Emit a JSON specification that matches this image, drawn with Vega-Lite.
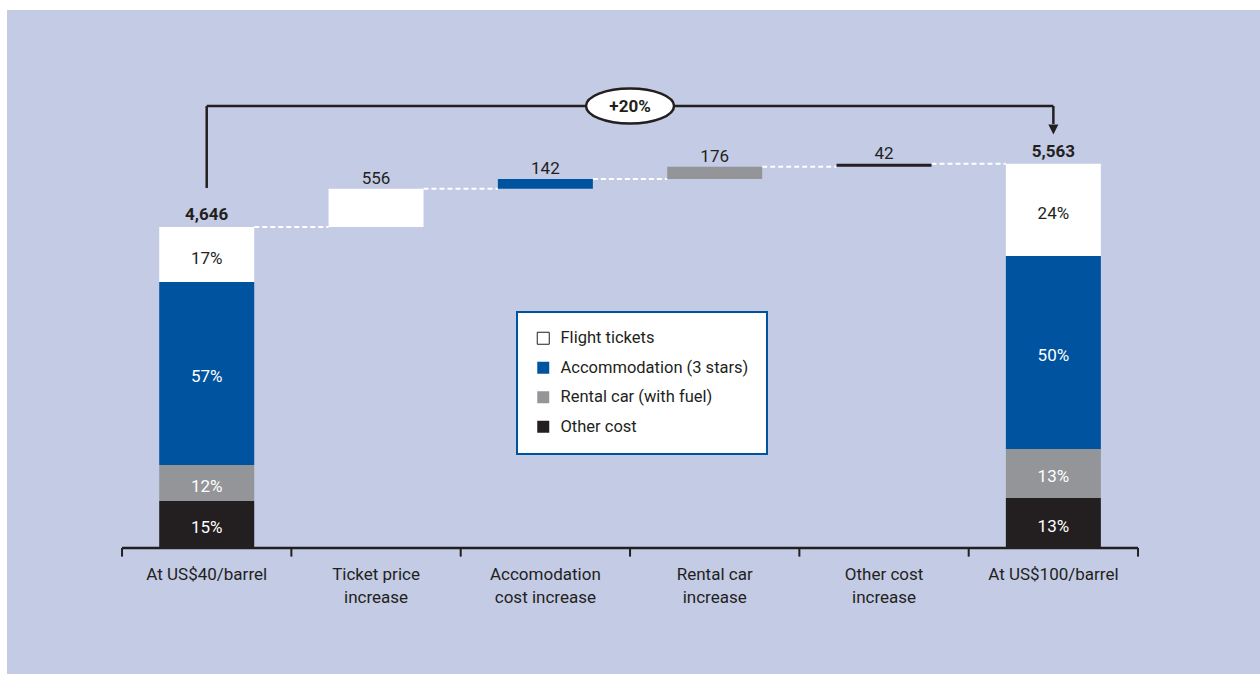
{
  "$schema": "https://vega.github.io/schema/vega-lite/v6.json",
  "width": 1253,
  "height": 664,
  "autosize": {"type": "none"},
  "padding": {"left": 7, "top": 10, "right": 0, "bottom": 0},
  "background": "#ffffff",
  "config": {
    "view": {"fill": "#c3cbe5", "stroke": null},
    "font": "Roboto, sans-serif",
    "text": {"font": "Roboto, sans-serif", "fontSize": 17, "color": "#231f20"},
    "legend": {"strokeWidth": 2}
  },
  "datasets": {
    "totals": [
      {"k": 0, "comp": "Other cost", "value": 680, "pct": "15%"},
      {"k": 0, "comp": "Rental car (with fuel)", "value": 522, "pct": "12%"},
      {"k": 0, "comp": "Accommodation (3 stars)", "value": 2650, "pct": "57%"},
      {"k": 0, "comp": "Flight tickets", "value": 794, "pct": "17%"},
      {"k": 5, "comp": "Other cost", "value": 724, "pct": "13%"},
      {"k": 5, "comp": "Rental car (with fuel)", "value": 710, "pct": "13%"},
      {"k": 5, "comp": "Accommodation (3 stars)", "value": 2794, "pct": "50%"},
      {"k": 5, "comp": "Flight tickets", "value": 1335, "pct": "24%"}
    ],
    "steps": [
      {"k": 0, "label": ["At US$40/barrel"], "comp": "Total", "start": 0, "end": 4646},
      {"k": 1, "label": ["Ticket price", "increase"], "comp": "Flight tickets", "start": 4646, "end": 5202, "change": 556},
      {"k": 2, "label": ["Accomodation", "cost increase"], "comp": "Accommodation (3 stars)", "start": 5202, "end": 5344, "change": 142},
      {"k": 3, "label": ["Rental car", "increase"], "comp": "Rental car (with fuel)", "start": 5344, "end": 5520, "change": 176},
      {"k": 4, "label": ["Other cost", "increase"], "comp": "Other cost", "start": 5520, "end": 5562, "change": 42},
      {"k": 5, "label": ["At US$100/barrel"], "comp": "Total", "start": 0, "end": 5563}
    ]
  },
  "layer": [
    {
      "data": {"name": "steps"},
      "transform": [
        {"window": [{"op": "lead", "field": "k", "as": "knext"}], "sort": [{"field": "k"}]},
        {"filter": "datum.knext != null"}
      ],
      "mark": {"type": "rule", "color": "#ffffff", "strokeWidth": 2, "strokeDash": [5, 3], "xOffset": 47.5, "x2Offset": -47.5},
      "encoding": {
        "x": {"field": "k", "type": "quantitative", "title": null,
          "scale": {"domain": [-1.1794, 6.2203], "nice": false, "zero": false, "padding": 0},
          "axis": null},
        "x2": {"field": "knext"},
        "y": {"field": "end", "type": "quantitative", "title": null,
          "scale": {"domain": [-1825, 7790], "nice": false, "zero": false, "padding": 0}, "axis": null}
      }
    },
    {
      "data": {"values": [{}]},
      "mark": {"type": "rule", "color": "#231f20", "strokeWidth": 2.5},
      "encoding": {
        "x": {"datum": -0.5, "type": "quantitative", "axis": null},
        "x2": {"datum": 5.5},
        "y": {"datum": 0, "type": "quantitative", "axis": null}
      }
    },
    {
      "data": {"name": "steps"},
      "mark": {"type": "rule", "color": "#231f20", "strokeWidth": 2, "xOffset": -84.67},
      "encoding": {
        "x": {"field": "k", "type": "quantitative", "axis": null},
        "y": {"datum": 0, "type": "quantitative", "axis": null},
        "y2": {"datum": -125}
      }
    },
    {
      "data": {"values": [{}]},
      "mark": {"type": "rule", "color": "#231f20", "strokeWidth": 2},
      "encoding": {
        "x": {"datum": 5.5, "type": "quantitative", "axis": null},
        "y": {"datum": 0, "type": "quantitative", "axis": null},
        "y2": {"datum": -125}
      }
    },
    {
      "data": {"name": "totals"},
      "transform": [{"stack": "value", "groupby": ["k"], "as": ["y0", "y1"]}],
      "mark": {"type": "bar", "width": 95},
      "encoding": {
        "x": {"field": "k", "type": "quantitative", "axis": null},
        "y": {"field": "y0", "type": "quantitative", "axis": null},
        "y2": {"field": "y1"},
        "color": {"field": "comp", "type": "nominal",
          "scale": {"domain": ["Flight tickets", "Accommodation (3 stars)", "Rental car (with fuel)", "Other cost"],
                    "range": ["#ffffff", "#00539f", "#939598", "#231f20"]},
          "legend": {"title": null, "orient": "none", "legendX": 510, "legendY": 302,
            "fillColor": "#ffffff", "strokeColor": "#00539f", "padding": 18,
            "symbolType": "square", "symbolSize": 144, "symbolStrokeWidth": 1,
            "labelFont": "Roboto, sans-serif", "labelFontSize": 16.5, "labelColor": "#231f20",
            "labelOffset": 9, "rowPadding": 12.5, "labelLimit": 400,
            "encode": {"symbols": {"update": {"stroke": [{"test": "datum.value === 'Flight tickets'", "value": "#231f20"}, {"value": "transparent"}]}}}}
        }
      }
    },
    {
      "data": {"name": "steps"},
      "transform": [{"filter": "datum.comp !== 'Total'"}],
      "mark": {"type": "bar", "width": 95},
      "encoding": {
        "x": {"field": "k", "type": "quantitative", "axis": null},
        "y": {"field": "start", "type": "quantitative", "axis": null},
        "y2": {"field": "end"},
        "color": {"field": "comp", "type": "nominal", "legend": null}
      }
    },
    {
      "data": {"name": "totals"},
      "transform": [
        {"stack": "value", "groupby": ["k"], "as": ["y0", "y1"]},
        {"calculate": "(datum.y0 + datum.y1) / 2", "as": "mid"}
      ],
      "mark": {"type": "text", "baseline": "middle", "align": "center", "dy": 4, "fontSize": 17},
      "encoding": {
        "x": {"field": "k", "type": "quantitative", "axis": null},
        "y": {"field": "mid", "type": "quantitative", "axis": null},
        "text": {"field": "pct", "type": "nominal"},
        "color": {"condition": {"test": "datum.comp === 'Flight tickets'", "value": "#231f20"}, "value": "#ffffff"}
      }
    },
    {
      "data": {"name": "steps"},
      "transform": [{"filter": "datum.comp !== 'Total'"}],
      "mark": {"type": "text", "baseline": "alphabetic", "align": "center", "dy": -5, "fontSize": 17},
      "encoding": {
        "x": {"field": "k", "type": "quantitative", "axis": null},
        "y": {"field": "end", "type": "quantitative", "axis": null},
        "text": {"field": "change", "type": "quantitative"}
      }
    },
    {
      "data": {"name": "steps"},
      "transform": [{"filter": "datum.comp === 'Total'"}],
      "mark": {"type": "text", "baseline": "alphabetic", "align": "center", "dy": -7, "fontSize": 17, "fontWeight": "bold"},
      "encoding": {
        "x": {"field": "k", "type": "quantitative", "axis": null},
        "y": {"field": "end", "type": "quantitative", "axis": null},
        "text": {"field": "end", "type": "quantitative", "format": ","}
      }
    },
    {
      "data": {"name": "steps"},
      "mark": {"type": "text", "baseline": "top", "align": "center", "dy": 19, "fontSize": 17, "lineHeight": 23},
      "encoding": {
        "x": {"field": "k", "type": "quantitative", "axis": null},
        "y": {"datum": 0, "type": "quantitative", "axis": null},
        "text": {"field": "label", "type": "nominal"}
      }
    },
    {
      "data": {"values": [{}]},
      "mark": {"type": "rule", "color": "#231f20", "strokeWidth": 2.5},
      "encoding": {
        "x": {"datum": 0, "type": "quantitative", "axis": null},
        "y": {"datum": 5213, "type": "quantitative", "axis": null},
        "y2": {"datum": 6400}
      }
    },
    {
      "data": {"values": [{}]},
      "mark": {"type": "rule", "color": "#231f20", "strokeWidth": 2.5},
      "encoding": {
        "x": {"datum": 0, "type": "quantitative", "axis": null},
        "x2": {"datum": 5},
        "y": {"datum": 6400, "type": "quantitative", "axis": null}
      }
    },
    {
      "data": {"values": [{}]},
      "mark": {"type": "rule", "color": "#231f20", "strokeWidth": 2.5},
      "encoding": {
        "x": {"datum": 5, "type": "quantitative", "axis": null},
        "y": {"datum": 6400, "type": "quantitative", "axis": null},
        "y2": {"datum": 6140}
      }
    },
    {
      "data": {"values": [{}]},
      "mark": {"type": "point", "shape": "M-1,-1L1,-1L0,1Z", "size": 100, "filled": true, "color": "#231f20", "opacity": 1},
      "encoding": {
        "x": {"datum": 5, "type": "quantitative", "axis": null},
        "y": {"datum": 6060, "type": "quantitative", "axis": null}
      }
    },
    {
      "data": {"values": [{}]},
      "mark": {"type": "point", "shape": "M-1,0A1,0.4,0,1,1,1,0A1,0.4,0,1,1,-1,0Z", "size": 7744, "fill": "#ffffff", "stroke": "#231f20", "strokeWidth": 2.5, "opacity": 1, "fillOpacity": 1},
      "encoding": {
        "x": {"datum": 2.5, "type": "quantitative", "axis": null},
        "y": {"datum": 6400, "type": "quantitative", "axis": null}
      }
    },
    {
      "data": {"values": [{"t": "+20%"}]},
      "mark": {"type": "text", "baseline": "middle", "align": "center", "dy": 1, "fontSize": 17, "fontWeight": "bold"},
      "encoding": {
        "x": {"datum": 2.5, "type": "quantitative", "axis": null},
        "y": {"datum": 6400, "type": "quantitative", "axis": null},
        "text": {"field": "t", "type": "nominal"}
      }
    }
  ]
}
